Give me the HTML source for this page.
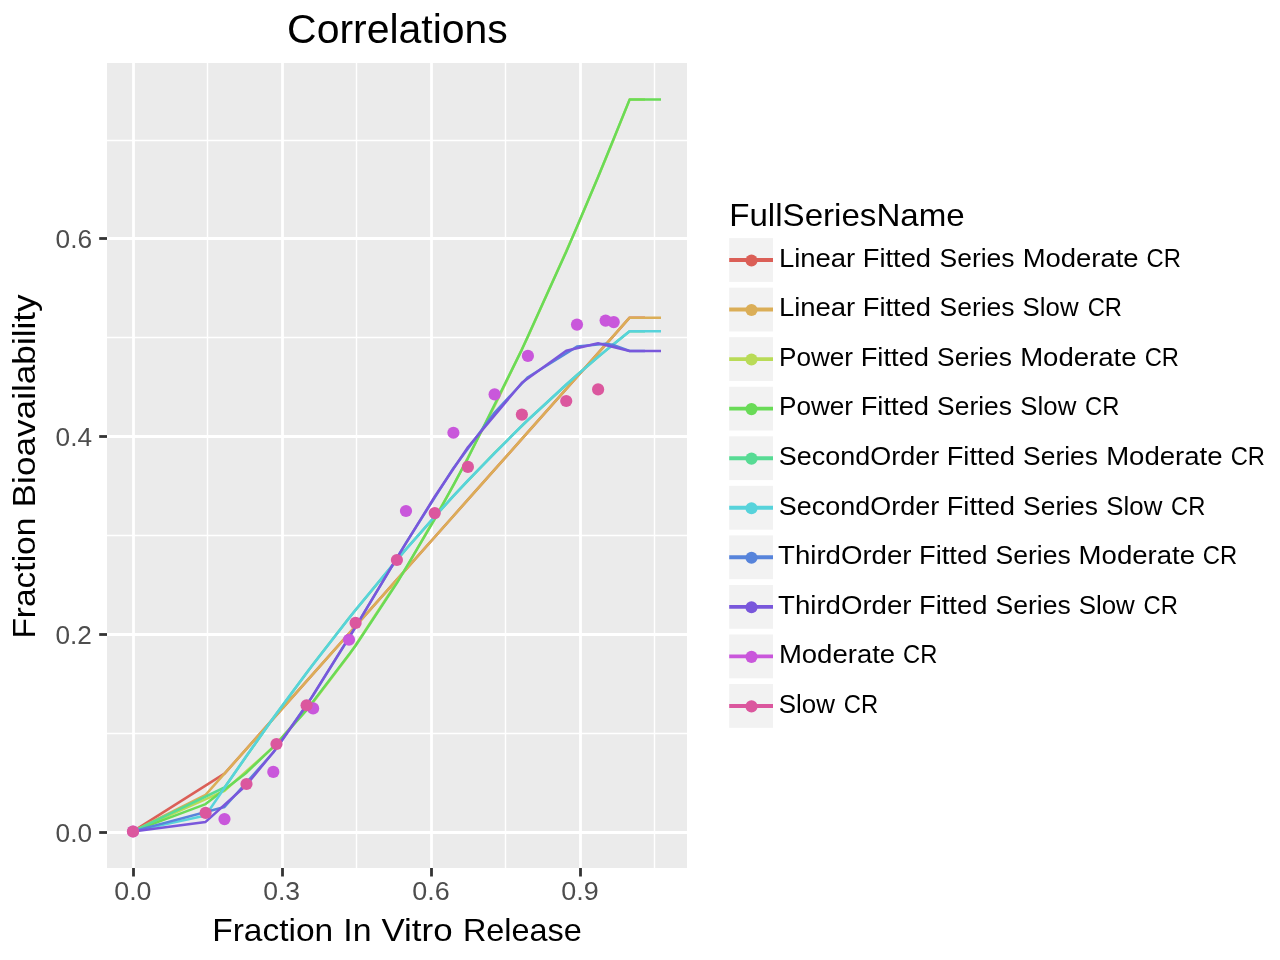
<!DOCTYPE html><html><head><meta charset="utf-8"><title>Correlations</title><style>html,body{margin:0;padding:0;background:#fff}svg{display:block;will-change:transform}text{font-family:"Liberation Sans",sans-serif}</style></head><body>
<svg width="1280" height="960" viewBox="0 0 1280 960">
<rect width="1280" height="960" fill="#ffffff"/>
<rect x="107" y="63" width="580" height="805" fill="#ebebeb"/>
<g stroke="#ffffff" stroke-width="1.4" shape-rendering="auto">
<line x1="207.5" y1="63" x2="207.5" y2="868"/>
<line x1="356.5" y1="63" x2="356.5" y2="868"/>
<line x1="505.5" y1="63" x2="505.5" y2="868"/>
<line x1="654.5" y1="63" x2="654.5" y2="868"/>
<line x1="107" y1="733.5" x2="687" y2="733.5"/>
<line x1="107" y1="535.5" x2="687" y2="535.5"/>
<line x1="107" y1="337.5" x2="687" y2="337.5"/>
<line x1="107" y1="140.5" x2="687" y2="140.5"/>
</g>
<g stroke="#ffffff" stroke-width="2.8">
<line x1="133.5" y1="63" x2="133.5" y2="868"/>
<line x1="282.5" y1="63" x2="282.5" y2="868"/>
<line x1="431.5" y1="63" x2="431.5" y2="868"/>
<line x1="580.5" y1="63" x2="580.5" y2="868"/>
<line x1="107" y1="832.5" x2="687" y2="832.5"/>
<line x1="107" y1="634.5" x2="687" y2="634.5"/>
<line x1="107" y1="436.5" x2="687" y2="436.5"/>
<line x1="107" y1="238.5" x2="687" y2="238.5"/>
</g>
<g fill="none" stroke-width="2.5" stroke-linejoin="round" stroke-linecap="butt">
<polyline stroke="#db5f57" points="133.0,831.4 224.5,773.6 273.3,718.7 313.1,673.9 349.0,633.5 406.0,569.3 453.4,516.0 494.6,469.6 527.9,432.2 577.0,376.9 605.6,344.7 613.8,335.6 629.6,317.7 645.0,317.7"/>
<polyline stroke="#dbae57" points="133.0,831.4 205.6,794.9 246.5,748.8 276.5,715.1 306.6,681.2 355.6,626.1 396.9,579.6 434.8,537.0 467.9,499.7 521.9,438.9 566.2,389.0 598.1,353.2 629.6,317.7 661.0,317.7"/>
<polyline stroke="#b9db57" points="133.0,831.4 224.5,790.8 273.3,747.1 313.1,702.2 349.0,655.1 406.0,568.3 453.4,485.5 494.6,406.0 527.9,336.8 577.0,227.1 605.6,159.0 613.8,139.1 629.6,99.6 645.0,99.6"/>
<polyline stroke="#69db57" points="133.0,831.4 205.6,804.1 246.5,772.7 276.5,743.8 306.6,710.1 355.6,645.8 396.9,583.1 434.8,519.2 467.9,458.3 521.9,349.6 566.2,251.9 598.1,177.1 629.6,99.6 661.0,99.6"/>
<polyline stroke="#57db94" points="133.0,831.4 224.5,787.5 273.3,718.0 313.1,664.2 349.0,618.0 406.0,549.1 453.4,495.9 494.6,452.8 527.9,420.0 577.0,375.0 605.6,350.6 613.8,344.0 629.6,331.3 645.0,331.3"/>
<polyline stroke="#57d3db" points="133.0,831.4 205.6,815.5 246.5,755.7 276.5,713.6 306.6,672.8 355.6,609.8 396.9,559.7 434.8,516.4 467.9,480.4 521.9,425.7 566.2,384.5 598.1,356.9 629.6,331.3 661.0,331.3"/>
<polyline stroke="#5784db" points="133.0,831.4 224.5,807.0 273.3,752.5 313.1,695.4 349.0,637.8 406.0,542.8 453.4,468.2 494.6,412.5 527.9,377.2 577.0,346.6 605.6,343.7 613.8,345.1 629.6,351.0 645.0,351.0"/>
<polyline stroke="#7957db" points="133.0,831.4 205.6,821.9 246.5,785.0 276.5,748.3 306.6,705.3 355.6,626.9 396.9,557.9 434.8,496.5 467.9,447.3 521.9,382.8 566.2,350.8 598.1,343.3 629.6,351.0 661.0,351.0"/>
</g>
<g fill="#c957db">
<circle cx="133" cy="831.5" r="6.1"/>
<circle cx="224.5" cy="819.1" r="6.1"/>
<circle cx="273.3" cy="771.9" r="6.1"/>
<circle cx="313.1" cy="708.4" r="6.1"/>
<circle cx="349" cy="639.75" r="6.1"/>
<circle cx="406" cy="511" r="6.1"/>
<circle cx="453.4" cy="432.75" r="6.1"/>
<circle cx="494.6" cy="394.4" r="6.1"/>
<circle cx="527.9" cy="355.9" r="6.1"/>
<circle cx="577" cy="324.6" r="6.1"/>
<circle cx="605.6" cy="320.6" r="6.1"/>
<circle cx="613.75" cy="322.1" r="6.1"/>
</g>
<g fill="#db579e">
<circle cx="133" cy="831.5" r="6.1"/>
<circle cx="205.6" cy="812.9" r="6.1"/>
<circle cx="246.5" cy="784" r="6.1"/>
<circle cx="276.5" cy="744" r="6.1"/>
<circle cx="306.6" cy="705.25" r="6.1"/>
<circle cx="355.6" cy="622.9" r="6.1"/>
<circle cx="396.9" cy="560" r="6.1"/>
<circle cx="434.75" cy="513.1" r="6.1"/>
<circle cx="467.9" cy="466.9" r="6.1"/>
<circle cx="521.9" cy="414.6" r="6.1"/>
<circle cx="566.25" cy="401" r="6.1"/>
<circle cx="598.1" cy="389.4" r="6.1"/>
</g>
<g stroke="#333333" stroke-width="2.8">
<line x1="133.5" y1="868" x2="133.5" y2="876.5"/>
<line x1="282.5" y1="868" x2="282.5" y2="876.5"/>
<line x1="431.5" y1="868" x2="431.5" y2="876.5"/>
<line x1="580.5" y1="868" x2="580.5" y2="876.5"/>
<line x1="99.2" y1="832.5" x2="107" y2="832.5"/>
<line x1="99.2" y1="634.5" x2="107" y2="634.5"/>
<line x1="99.2" y1="436.5" x2="107" y2="436.5"/>
<line x1="99.2" y1="238.5" x2="107" y2="238.5"/>
</g>
<text x="287.12" y="42.5" font-size="40.0" fill="#000000" textLength="220.72" lengthAdjust="spacingAndGlyphs">Correlations</text>
<text x="212.23" y="941" font-size="31.5" fill="#000000" textLength="120.92" lengthAdjust="spacingAndGlyphs">Fraction</text>
<text x="343.22" y="941" font-size="31.5" fill="#000000" textLength="28.26" lengthAdjust="spacingAndGlyphs">In</text>
<text x="381.46" y="941" font-size="31.5" fill="#000000" textLength="71.08" lengthAdjust="spacingAndGlyphs">Vitro</text>
<text x="462.95" y="941" font-size="31.5" fill="#000000" textLength="118.83" lengthAdjust="spacingAndGlyphs">Release</text>
<text transform="translate(35.0,638.62) rotate(-90)" font-size="31.5" fill="#000000" textLength="120.97" lengthAdjust="spacingAndGlyphs">Fraction</text>
<text transform="translate(35.0,507.38) rotate(-90)" font-size="31.5" fill="#000000" textLength="213.1" lengthAdjust="spacingAndGlyphs">Bioavailability</text>
<text x="114.24" y="899.7" font-size="25.9" fill="#4d4d4d" textLength="37.24" lengthAdjust="spacingAndGlyphs">0.0</text>
<text x="263.26" y="899.7" font-size="25.9" fill="#4d4d4d" textLength="36.88" lengthAdjust="spacingAndGlyphs">0.3</text>
<text x="412.25" y="899.7" font-size="25.9" fill="#4d4d4d" textLength="37.37" lengthAdjust="spacingAndGlyphs">0.6</text>
<text x="561.23" y="899.7" font-size="25.9" fill="#4d4d4d" textLength="37.39" lengthAdjust="spacingAndGlyphs">0.9</text>
<text x="55.62" y="841.6" font-size="25.9" fill="#4d4d4d" textLength="36.46" lengthAdjust="spacingAndGlyphs">0.0</text>
<text x="55.42" y="643.5" font-size="25.9" fill="#4d4d4d" textLength="36.38" lengthAdjust="spacingAndGlyphs">0.2</text>
<text x="55.56" y="445.5" font-size="25.9" fill="#4d4d4d" textLength="36.45" lengthAdjust="spacingAndGlyphs">0.4</text>
<text x="55.6" y="247.5" font-size="25.9" fill="#4d4d4d" textLength="36.52" lengthAdjust="spacingAndGlyphs">0.6</text>
<text x="729.23" y="225.85" font-size="31.5" fill="#000000" textLength="235.49" lengthAdjust="spacingAndGlyphs">FullSeriesName</text>
<text x="778.9" y="266.75" font-size="25.9" fill="#000000" textLength="76.4" lengthAdjust="spacingAndGlyphs">Linear</text>
<text x="862.76" y="266.75" font-size="25.9" fill="#000000" textLength="68.33" lengthAdjust="spacingAndGlyphs">Fitted</text>
<text x="939.56" y="266.75" font-size="25.9" fill="#000000" textLength="75.04" lengthAdjust="spacingAndGlyphs">Series</text>
<text x="1022.65" y="266.75" font-size="25.9" fill="#000000" textLength="116.01" lengthAdjust="spacingAndGlyphs">Moderate</text>
<text x="1146.59" y="266.75" font-size="25.9" fill="#000000" textLength="34.37" lengthAdjust="spacingAndGlyphs">CR</text>
<text x="778.9" y="316.3" font-size="25.9" fill="#000000" textLength="76.4" lengthAdjust="spacingAndGlyphs">Linear</text>
<text x="862.76" y="316.3" font-size="25.9" fill="#000000" textLength="68.33" lengthAdjust="spacingAndGlyphs">Fitted</text>
<text x="939.56" y="316.3" font-size="25.9" fill="#000000" textLength="75.04" lengthAdjust="spacingAndGlyphs">Series</text>
<text x="1022.62" y="316.3" font-size="25.9" fill="#000000" textLength="55.91" lengthAdjust="spacingAndGlyphs">Slow</text>
<text x="1087.65" y="316.3" font-size="25.9" fill="#000000" textLength="34.3" lengthAdjust="spacingAndGlyphs">CR</text>
<text x="778.98" y="365.85" font-size="25.9" fill="#000000" textLength="74.09" lengthAdjust="spacingAndGlyphs">Power</text>
<text x="860.66" y="365.85" font-size="25.9" fill="#000000" textLength="68.4" lengthAdjust="spacingAndGlyphs">Fitted</text>
<text x="937.14" y="365.85" font-size="25.9" fill="#000000" textLength="74.78" lengthAdjust="spacingAndGlyphs">Series</text>
<text x="1020.15" y="365.85" font-size="25.9" fill="#000000" textLength="116.48" lengthAdjust="spacingAndGlyphs">Moderate</text>
<text x="1144.65" y="365.85" font-size="25.9" fill="#000000" textLength="34.3" lengthAdjust="spacingAndGlyphs">CR</text>
<text x="778.98" y="415.4" font-size="25.9" fill="#000000" textLength="74.09" lengthAdjust="spacingAndGlyphs">Power</text>
<text x="860.66" y="415.4" font-size="25.9" fill="#000000" textLength="68.4" lengthAdjust="spacingAndGlyphs">Fitted</text>
<text x="937.14" y="415.4" font-size="25.9" fill="#000000" textLength="74.78" lengthAdjust="spacingAndGlyphs">Series</text>
<text x="1020.36" y="415.4" font-size="25.9" fill="#000000" textLength="55.93" lengthAdjust="spacingAndGlyphs">Slow</text>
<text x="1085.1" y="415.4" font-size="25.9" fill="#000000" textLength="34.31" lengthAdjust="spacingAndGlyphs">CR</text>
<text x="778.86" y="464.95" font-size="25.9" fill="#000000" textLength="160.34" lengthAdjust="spacingAndGlyphs">SecondOrder</text>
<text x="946.66" y="464.95" font-size="25.9" fill="#000000" textLength="68.4" lengthAdjust="spacingAndGlyphs">Fitted</text>
<text x="1023.14" y="464.95" font-size="25.9" fill="#000000" textLength="74.78" lengthAdjust="spacingAndGlyphs">Series</text>
<text x="1106.15" y="464.95" font-size="25.9" fill="#000000" textLength="116.48" lengthAdjust="spacingAndGlyphs">Moderate</text>
<text x="1230.65" y="464.95" font-size="25.9" fill="#000000" textLength="34.3" lengthAdjust="spacingAndGlyphs">CR</text>
<text x="778.86" y="514.5" font-size="25.9" fill="#000000" textLength="160.34" lengthAdjust="spacingAndGlyphs">SecondOrder</text>
<text x="946.66" y="514.5" font-size="25.9" fill="#000000" textLength="68.4" lengthAdjust="spacingAndGlyphs">Fitted</text>
<text x="1023.14" y="514.5" font-size="25.9" fill="#000000" textLength="74.78" lengthAdjust="spacingAndGlyphs">Series</text>
<text x="1106.36" y="514.5" font-size="25.9" fill="#000000" textLength="55.93" lengthAdjust="spacingAndGlyphs">Slow</text>
<text x="1171.1" y="514.5" font-size="25.9" fill="#000000" textLength="34.31" lengthAdjust="spacingAndGlyphs">CR</text>
<text x="778.03" y="564.05" font-size="25.9" fill="#000000" textLength="133.51" lengthAdjust="spacingAndGlyphs">ThirdOrder</text>
<text x="919.04" y="564.05" font-size="25.9" fill="#000000" textLength="68.32" lengthAdjust="spacingAndGlyphs">Fitted</text>
<text x="995.55" y="564.05" font-size="25.9" fill="#000000" textLength="75.16" lengthAdjust="spacingAndGlyphs">Series</text>
<text x="1078.63" y="564.05" font-size="25.9" fill="#000000" textLength="116.43" lengthAdjust="spacingAndGlyphs">Moderate</text>
<text x="1202.84" y="564.05" font-size="25.9" fill="#000000" textLength="34.39" lengthAdjust="spacingAndGlyphs">CR</text>
<text x="778.03" y="613.6" font-size="25.9" fill="#000000" textLength="133.51" lengthAdjust="spacingAndGlyphs">ThirdOrder</text>
<text x="919.04" y="613.6" font-size="25.9" fill="#000000" textLength="68.32" lengthAdjust="spacingAndGlyphs">Fitted</text>
<text x="995.55" y="613.6" font-size="25.9" fill="#000000" textLength="75.16" lengthAdjust="spacingAndGlyphs">Series</text>
<text x="1078.65" y="613.6" font-size="25.9" fill="#000000" textLength="56.07" lengthAdjust="spacingAndGlyphs">Slow</text>
<text x="1143.59" y="613.6" font-size="25.9" fill="#000000" textLength="34.37" lengthAdjust="spacingAndGlyphs">CR</text>
<text x="778.9" y="663.15" font-size="25.9" fill="#000000" textLength="116.28" lengthAdjust="spacingAndGlyphs">Moderate</text>
<text x="903.1" y="663.15" font-size="25.9" fill="#000000" textLength="34.31" lengthAdjust="spacingAndGlyphs">CR</text>
<text x="778.81" y="712.7" font-size="25.9" fill="#000000" textLength="56.13" lengthAdjust="spacingAndGlyphs">Slow</text>
<text x="843.84" y="712.7" font-size="25.9" fill="#000000" textLength="34.39" lengthAdjust="spacingAndGlyphs">CR</text>
<rect x="729.2" y="238.10" width="43.8" height="43.8" fill="#f2f2f2"/>
<line x1="729.2" y1="260.00" x2="773.0" y2="260.00" stroke="#db5f57" stroke-width="3.9"/>
<circle cx="751.5" cy="260.45" r="6.05" fill="#db5f57"/>
<rect x="729.2" y="287.65" width="43.8" height="43.8" fill="#f2f2f2"/>
<line x1="729.2" y1="309.55" x2="773.0" y2="309.55" stroke="#dbae57" stroke-width="3.9"/>
<circle cx="751.5" cy="310.00" r="6.05" fill="#dbae57"/>
<rect x="729.2" y="337.20" width="43.8" height="43.8" fill="#f2f2f2"/>
<line x1="729.2" y1="359.10" x2="773.0" y2="359.10" stroke="#b9db57" stroke-width="3.9"/>
<circle cx="751.5" cy="359.55" r="6.05" fill="#b9db57"/>
<rect x="729.2" y="386.75" width="43.8" height="43.8" fill="#f2f2f2"/>
<line x1="729.2" y1="408.65" x2="773.0" y2="408.65" stroke="#69db57" stroke-width="3.9"/>
<circle cx="751.5" cy="409.10" r="6.05" fill="#69db57"/>
<rect x="729.2" y="436.30" width="43.8" height="43.8" fill="#f2f2f2"/>
<line x1="729.2" y1="458.20" x2="773.0" y2="458.20" stroke="#57db94" stroke-width="3.9"/>
<circle cx="751.5" cy="458.65" r="6.05" fill="#57db94"/>
<rect x="729.2" y="485.85" width="43.8" height="43.8" fill="#f2f2f2"/>
<line x1="729.2" y1="507.75" x2="773.0" y2="507.75" stroke="#57d3db" stroke-width="3.9"/>
<circle cx="751.5" cy="508.20" r="6.05" fill="#57d3db"/>
<rect x="729.2" y="535.40" width="43.8" height="43.8" fill="#f2f2f2"/>
<line x1="729.2" y1="557.30" x2="773.0" y2="557.30" stroke="#5784db" stroke-width="3.9"/>
<circle cx="751.5" cy="557.75" r="6.05" fill="#5784db"/>
<rect x="729.2" y="584.95" width="43.8" height="43.8" fill="#f2f2f2"/>
<line x1="729.2" y1="606.85" x2="773.0" y2="606.85" stroke="#7957db" stroke-width="3.9"/>
<circle cx="751.5" cy="607.30" r="6.05" fill="#7957db"/>
<rect x="729.2" y="634.50" width="43.8" height="43.8" fill="#f2f2f2"/>
<line x1="729.2" y1="656.40" x2="773.0" y2="656.40" stroke="#c957db" stroke-width="3.9"/>
<circle cx="751.5" cy="656.85" r="6.05" fill="#c957db"/>
<rect x="729.2" y="684.05" width="43.8" height="43.8" fill="#f2f2f2"/>
<line x1="729.2" y1="705.95" x2="773.0" y2="705.95" stroke="#db579e" stroke-width="3.9"/>
<circle cx="751.5" cy="706.40" r="6.05" fill="#db579e"/>
</svg></body></html>
